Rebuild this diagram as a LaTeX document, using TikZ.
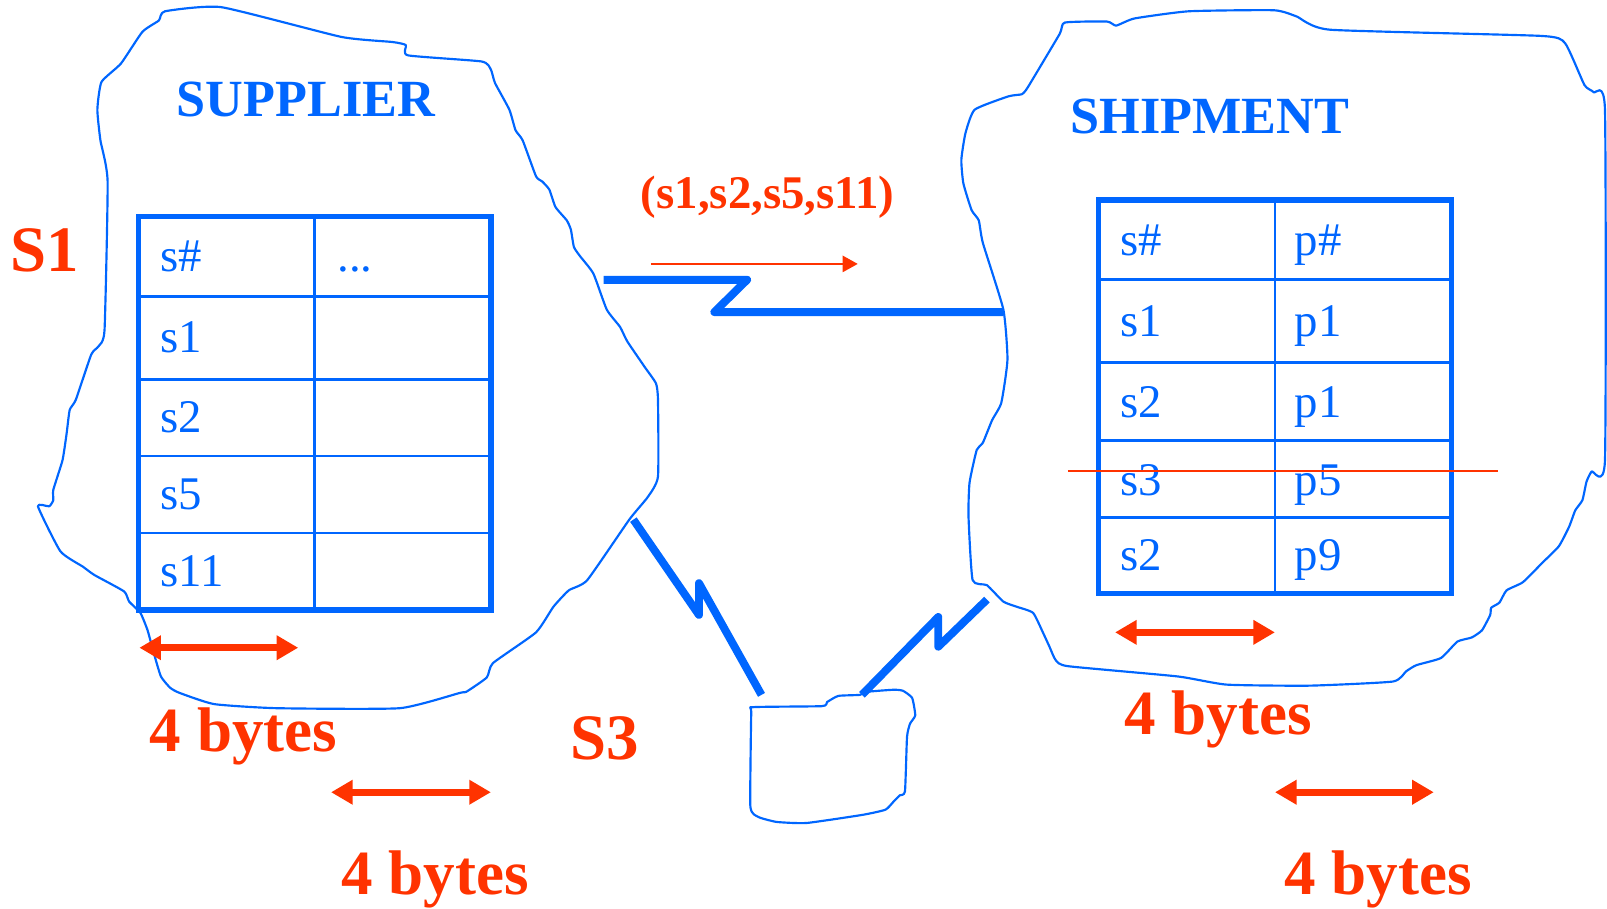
\documentclass[tikz,border=0pt]{standalone}
\usepackage{fontspec}
\setmainfont{Liberation Serif}
\usetikzlibrary{arrows.meta}
\definecolor{siteblue}{RGB}{0,102,255}
\definecolor{notered}{RGB}{255,51,0}

\begin{document}
\begin{tikzpicture}[
    x=0.02cm, y=-0.02cm,
    blob/.style={draw=siteblue, line width=1.2pt, line join=round},
    tabframe/.style={draw=siteblue, line width=3pt},
    tabline/.style={draw=siteblue, line width=1.5pt},
    cell/.style={anchor=base west, inner sep=0pt, text=siteblue, font=\fontsize{26}{30}\selectfont},
    title/.style={anchor=base west, inner sep=0pt, text=siteblue, font=\fontsize{29}{34}\selectfont\bfseries},
    site/.style={anchor=base west, inner sep=0pt, text=notered, font=\fontsize{36}{42}\selectfont\bfseries},
    link/.style={draw=siteblue, line width=4.4pt, line join=round},
    span/.style={draw=notered, line width=4pt, {Triangle[length=12pt,width=13pt]}-{Triangle[length=12pt,width=13pt]}},
    flow/.style={draw=notered, line width=1.4pt, -{Triangle[length=8.5pt,width=9pt]}}
]
\useasboundingbox (0,0) rectangle (1568,886);

% site outlines
\draw[blob] plot[smooth cycle, tension=0.3] coordinates {
    (161,11) (216,7) (333,36) (383,41) (396,44) (398,54) (470,60) (479,68)
    (483,81) (497,107) (503,127) (510,137) (523,172) (529,177) (536,185)
    (542,202) (553,215) (557,224) (560,241) (566,250) (579,267) (592,302)
    (605,319) (612,333) (629,358) (640,374) (642,390) (642,465) (632,485)
    (614,507) (573,566) (555,576) (540,592) (523,617) (481,647) (475,661)
    (455,675) (449,676) (390,691) (270,691) (209,687) (175,676) (166,671)
    (157,660) (150,637) (144,615) (137,598) (126,587) (121,577) (92,561)
    (81,553) (59,538) (37,494) (48,494) (52,488) (52,478) (61,449) (65,423)
    (68,400) (74,390) (89,346) (96,338) (102,322) (105,177) (98,137)
    (95,107) (99,80) (118,62) (139,31) (155,20)};
\draw[blob] plot[smooth cycle, tension=0.3] coordinates {
    (1039,22) (1080,21) (1089,25) (1107,18) (1160,11) (1243,10) (1265,16)
    (1298,29) (1503,35) (1527,42) (1546,83) (1555,90) (1566,107) (1566,449)
    (1553,460) (1548,470) (1544,488) (1537,498) (1531,514) (1521,533)
    (1505,549) (1486,568) (1470,576) (1463,588) (1455,593) (1454,600)
    (1446,615) (1436,622) (1422,626) (1406,642) (1382,649) (1372,655)
    (1359,665) (1278,669) (1197,668) (1149,660) (1042,650) (1030,644)
    (1024,631) (1018,618) (1008,598) (992,592) (979,587) (963,571)
    (949,566) (945,504) (946,471) (953,439) (959,432) (968,410) (977,393)
    (983,351) (979,302) (959,237) (955,215) (948,205) (940,179) (938,156)
    (942,130) (951,107) (984,94) (997,92) (1001,88) (1006,80) (1034,33)};
\draw[blob] plot[smooth cycle, tension=0.3] coordinates {
    (735,690) (802,689) (807,685) (818,679) (839,678) (846,675) (872,673)
    (881,674) (890,681) (893,698) (888,706) (885,719) (883,772) (878,776)
    (872,782) (864,790) (842,795) (787,803) (758,802) (742,798) (735,794)
    (732,784) (733,696)};

% link end points
\coordinate (sup-port) at (589,273);
\coordinate (shp-port) at (979,304.5);
\coordinate (sup-south) at (618,507);
\coordinate (rem-west) at (743,678);
\coordinate (rem-east) at (841,678);
\coordinate (shp-south) at (963,585);

% SUPPLIER table
\draw[tabline] (307,211) -- (307,595);
\foreach \y in {289,370,445,520}
    \draw[tabline] (135,\y) -- (479,\y);
\draw[tabframe] (135,211) rectangle (479,595);
\foreach \t/\y in {s\#/265, s1/344, s2/422, s5/497, s11/572}
    \node[cell] (sup-\y) at (156,\y) {\t};
\node[cell] (sup-more) at (329,265) {...};

% SHIPMENT table
\draw[tabline] (1244,195) -- (1244,579);
\foreach \y in {273,354,430,505}
    \draw[tabline] (1072,\y) -- (1416,\y);
\draw[tabframe] (1072,195) rectangle (1416,579);
\foreach \s/\p/\y in {s\#/p\#/249, s1/p1/328, s2/p1/407, s3/p5/483, s2/p9/557} {
    \node[cell] (shp-s\y) at (1093,\y) {\s};
    \node[cell] (shp-p\y) at (1263,\y) {\p};
}
\draw[notered, line width=1.1pt] (1042,460) -- (1462,460);

% titles and site names
\node[title] (supplier) at (172,114) {SUPPLIER};
\node[title] (shipment) at (1044,130) {SHIPMENT};
\node[site] (site-s1) at (10,265) {S1};
\node[site] (site-s3) at (556,741) {S3};
\node[site, font=\fontsize{26}{31}\selectfont\bfseries] (keys) at (625,203) {(s1,s2,s5,s11)};

% links between sites
\draw[link] (sup-port) -- ++(140,0) -- ++(-32,31.5) -- (shp-port);
\draw[link] (sup-south) -- (682,600) -- (682,569) -- (rem-west);
\draw[link] (rem-east) -- (915.5,602) -- (915.5,631) -- (shp-south);

% shipped keys
\coordinate (flow-a) at (635,257.5);
\coordinate (flow-b) at (837,257.5);
\draw[flow] (flow-a) -- (flow-b);

% field widths
\draw[span] (136,632) -- (291,632);
\draw[span] (323,773) -- (479,773);
\draw[span] (1088,617) -- (1244,617);
\draw[span] (1244,773) -- (1399,773);
\node[site, font=\fontsize{35}{42}\selectfont\bfseries] (bytes-a) at (146,733) {4 bytes};
\node[site, font=\fontsize{35}{42}\selectfont\bfseries] (bytes-b) at (333,873) {4 bytes};
\node[site, font=\fontsize{35}{42}\selectfont\bfseries] (bytes-c) at (1097,717) {4 bytes};
\node[site, font=\fontsize{35}{42}\selectfont\bfseries] (bytes-d) at (1253,873) {4 bytes};

\end{tikzpicture}
\end{document}
